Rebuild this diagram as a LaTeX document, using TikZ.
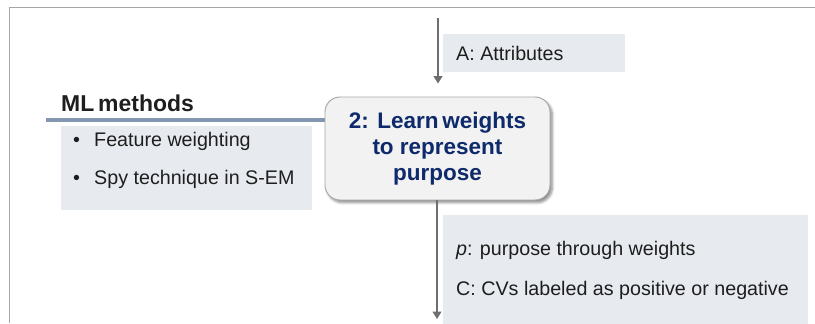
\documentclass[tikz,border=0pt]{standalone}
\usepackage{fontspec}
\setmainfont{Liberation Sans}
\usepackage{tikz}
\usetikzlibrary{arrows.meta,shadows.blur}

\definecolor{framegray}{HTML}{A6A6A6}
\definecolor{flowgray}{HTML}{6E6E6E}
\definecolor{notegray}{HTML}{E7EAEF}
\definecolor{rulecol}{HTML}{8497B0}
\definecolor{stepnavy}{HTML}{0F2A6B}
\definecolor{textdark}{HTML}{1E1E1E}

\begin{document}
\begin{tikzpicture}[x=0.03cm, y=-0.03cm,
  note/.style={fill=notegray, draw=none, inner sep=0pt, anchor=north west},
  notetext/.style={anchor=base west, inner sep=0pt, text=textdark, font=\fontsize{16.8}{19}\selectfont},
  stepbox/.style={draw=framegray, line width=0.8pt, fill=black!5, rounded corners=0.45cm,
    minimum width=6.75cm, minimum height=3.09cm, align=center, text=stepnavy,
    font=\fontsize{19.2}{22.2}\selectfont\bfseries,
    blur shadow={shadow xshift=0.07cm, shadow yshift=-0.08cm, shadow blur steps=6, shadow opacity=45}},
  flow/.style={draw=flowgray, line width=1.3pt, -{Triangle[length=0.22cm, width=0.26cm]}}]
\useasboundingbox (0,0) rectangle (815,323);
% Frame
\draw[framegray, line width=0.85pt] (815,7) -- (9,7) -- (9,323);
% Central step
\node[stepbox] (learn) at (437.5,148.5) {2: Learn\,weights\\to represent\\purpose};
% Input
\coordinate (intop) at (438,18);
\node[note, minimum width=5.46cm, minimum height=1.14cm] (attrbox) at (443,34) {};
\node[notetext] (attr) at (456,60) {A: Attributes};
\draw[flow, shorten >=0.39cm] (intop) -- (intop |- learn.north);
% Methods
\node[anchor=base west, inner sep=0pt, text=textdark, font=\fontsize{19.6}{22}\selectfont\bfseries] (mlhead) at (61,111) {ML\,methods};
\coordinate (mlrule) at (46,120);
\draw[rulecol, line width=3.5pt] (mlrule) -- (mlrule -| learn.west);
\node[note, minimum width=7.53cm, minimum height=2.52cm] (mlbox) at (61,126) {};
\node[notetext] (b1) at (73,146) {\textbullet};
\node[notetext] (m1) at (94,146) {Feature weighting};
\node[notetext] (b2) at (73,184) {\textbullet};
\node[notetext] (m2) at (94,184) {Spy technique in S-EM};
% Output
\coordinate (outbot) at (437,319);
\node[note, minimum width=10.95cm, minimum height=3.3cm] (outbox) at (443,215) {};
\node[notetext] (o1) at (456,255) {\textit{p}: purpose through weights};
\node[notetext] (o2) at (456,295) {C: CVs labeled as positive or negative};
\draw[flow] (learn.south -| outbot) -- (outbot);
\end{tikzpicture}
\end{document}
